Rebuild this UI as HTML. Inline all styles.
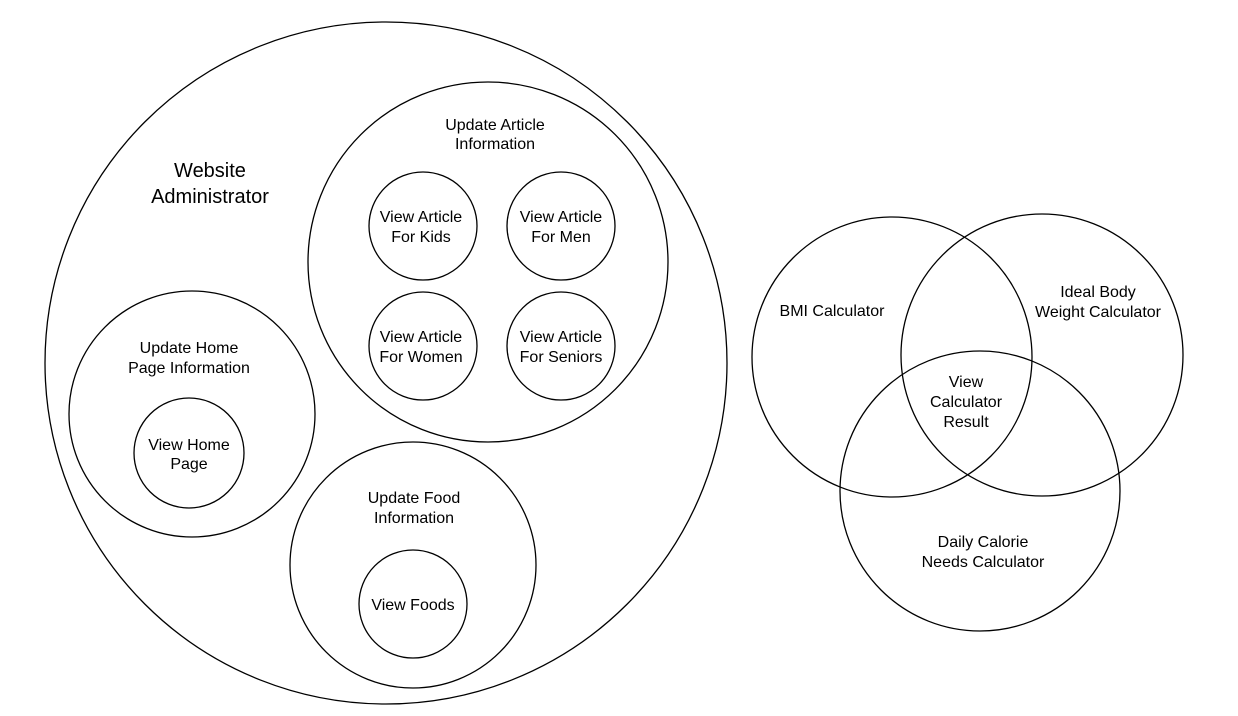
<!DOCTYPE html>
<html><head><meta charset="utf-8"><style>body{margin:0;background:#fff}svg{display:block}</style></head>
<body>
<svg width="1238" height="716" viewBox="0 0 1238 716" xmlns="http://www.w3.org/2000/svg" font-family="Liberation Sans, Arial, sans-serif" fill="none" stroke="#000" stroke-width="1.3">
<circle cx="386" cy="363" r="341"/>
<circle cx="488" cy="262" r="180"/>
<circle cx="423" cy="226" r="54"/>
<circle cx="561" cy="226" r="54"/>
<circle cx="423" cy="346" r="54"/>
<circle cx="561" cy="346" r="54"/>
<circle cx="192" cy="414" r="123"/>
<circle cx="189" cy="453" r="55"/>
<circle cx="413" cy="565" r="123"/>
<circle cx="413" cy="604" r="54"/>
<circle cx="892" cy="357" r="140"/>
<circle cx="1042" cy="355" r="141"/>
<circle cx="980" cy="491" r="140"/>
<g fill="#000" stroke="none" font-size="16" text-anchor="middle">
<text x="210" y="177" font-size="20">Website</text>
<text x="210" y="203" font-size="20">Administrator</text>
<text x="495" y="130">Update Article</text>
<text x="495" y="149">Information</text>
<text x="421" y="222">View Article</text>
<text x="421" y="242">For Kids</text>
<text x="561" y="222">View Article</text>
<text x="561" y="242">For Men</text>
<text x="421" y="342">View Article</text>
<text x="421" y="362">For Women</text>
<text x="561" y="342">View Article</text>
<text x="561" y="362">For Seniors</text>
<text x="189" y="353">Update Home</text>
<text x="189" y="373">Page Information</text>
<text x="189" y="450">View Home</text>
<text x="189" y="469">Page</text>
<text x="414" y="503">Update Food</text>
<text x="414" y="523">Information</text>
<text x="413" y="610">View Foods</text>
<text x="832" y="316">BMI Calculator</text>
<text x="1098" y="297">Ideal Body</text>
<text x="1098" y="317">Weight Calculator</text>
<text x="966" y="387">View</text>
<text x="966" y="407">Calculator</text>
<text x="966" y="427">Result</text>
<text x="983" y="547">Daily Calorie</text>
<text x="983" y="567">Needs Calculator</text>
</g>
</svg>
</body></html>
